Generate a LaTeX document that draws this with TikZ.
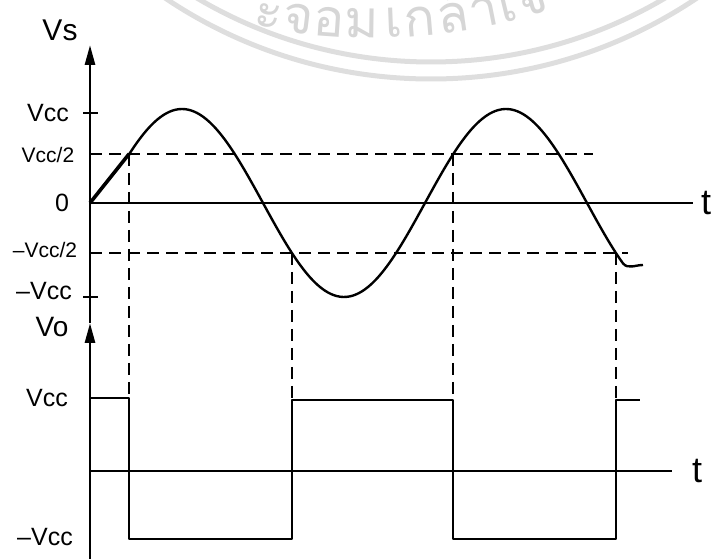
\documentclass[tikz,border=0pt]{standalone}
\usepackage{fontspec}
\setmainfont{Liberation Sans}
\newfontfamily\thaifont[Script=Thai]{Loma}
\usetikzlibrary{arrows.meta}

\begin{document}
\begin{tikzpicture}[x=1pt,y=1pt,
  axis/.style={draw=black,line width=2.8pt},
  wave/.style={draw=black,line width=2.4pt,line join=round},
  guide/.style={draw=black,line width=2.1pt,dash pattern=on 12pt off 7pt},
  lbl/.style={inner sep=0pt,font=\fontsize{25}{25}\selectfont},
  half/.style={inner sep=0pt,font=\fontsize{21}{21}\selectfont},
  wring/.style={draw=black!13,line width=5pt},
  wtext/.style={inner sep=0pt,text=black!16,font=\thaifont\fontsize{52}{52}\selectfont}]
  \useasboundingbox (0,0) rectangle (727,559);
  % watermark rings and text
  \begin{scope}
    \clip (0,0) rectangle (727,559);
    \draw[wring] (431,957) circle[radius=460];
    \draw[wring] (431,957) circle[radius=477];
    \foreach \ch/\px in {ะ/266,จ/297,อ/328,ม/362,เ/394,ก/421,ล้/455,า/487,เ/511,จ้/536}{
      \pgfmathsetmacro\ang{asin((\px-370)/600)}
      \node[wtext,anchor=base,rotate=\ang] at ([shift={(270+\ang:600)}]370,1121) {\ch};
    }
  \end{scope}
  % axes
  \coordinate (o1) at (90,356);
  \coordinate (o2) at (90,88);
  \draw[axis,-{Triangle[length=20pt,width=10pt]}] (90,0) -- (90,236) coordinate (vo);
  \draw[axis,-{Triangle[length=20pt,width=10pt]}] (vo) -- (90,514) coordinate (vs);
  \draw[axis] (o1) -- (693,356) coordinate (t1);
  \draw[axis] (o2) -- (672,88) coordinate (t2);
  \foreach \y in {446,262}
    \draw[axis,line width=2pt] (83,\y) -- (98,\y);
  % threshold levels and switching instants
  \draw[guide] (90,405) -- (593,405);
  \draw[guide] (90,306) -- (628,306);
  \foreach \px/\ytop in {129/405,292/306,453/405,616/306}
    \draw[guide] (\px,\ytop) -- (\px,161);
  % input: ramp, then sine
  \draw[wave,line width=3.6pt] (o1) -- (129,405);
  \draw[wave] plot[domain=129:623,samples=160,smooth] (\x,{356+94*sin(1.11111*(\x-101))})
    to[out=-50,in=180] (643,294);
  % output square wave
  \draw[wave] (90,161) -- (129,161) -- (129,20) -- (292,20) -- (292,159) -- (453,159)
    -- (453,20) -- (616,20) -- (616,159) -- (640,159);
  % labels
  \node[lbl,font=\fontsize{30}{30}\selectfont] (lvs) at (60,529) {Vs};
  \node[lbl] (lvcc) at (48,446) {Vcc};
  \node[half] (lhalf) at (48,404) {Vcc/2};
  \node[lbl] (lzero) at (62,356) {0};
  \node[half] (lnhalf) at (45,309) {–Vcc/2};
  \node[lbl] (lnvcc) at (44,268) {–Vcc};
  \node[lbl,font=\fontsize{28}{28}\selectfont] (lvo) at (52,232) {Vo};
  \node[lbl] (lvcc2) at (47,161) {Vcc};
  \node[lbl] (lnvcc2) at (45,22) {–Vcc};
  \node[lbl,font=\fontsize{36}{36}\selectfont,anchor=west] (lt1) at ([xshift=8pt]t1) {t};
  \node[lbl,font=\fontsize{36}{36}\selectfont,anchor=west] (lt2) at ([xshift=20pt]t2) {t};
\end{tikzpicture}
\end{document}
